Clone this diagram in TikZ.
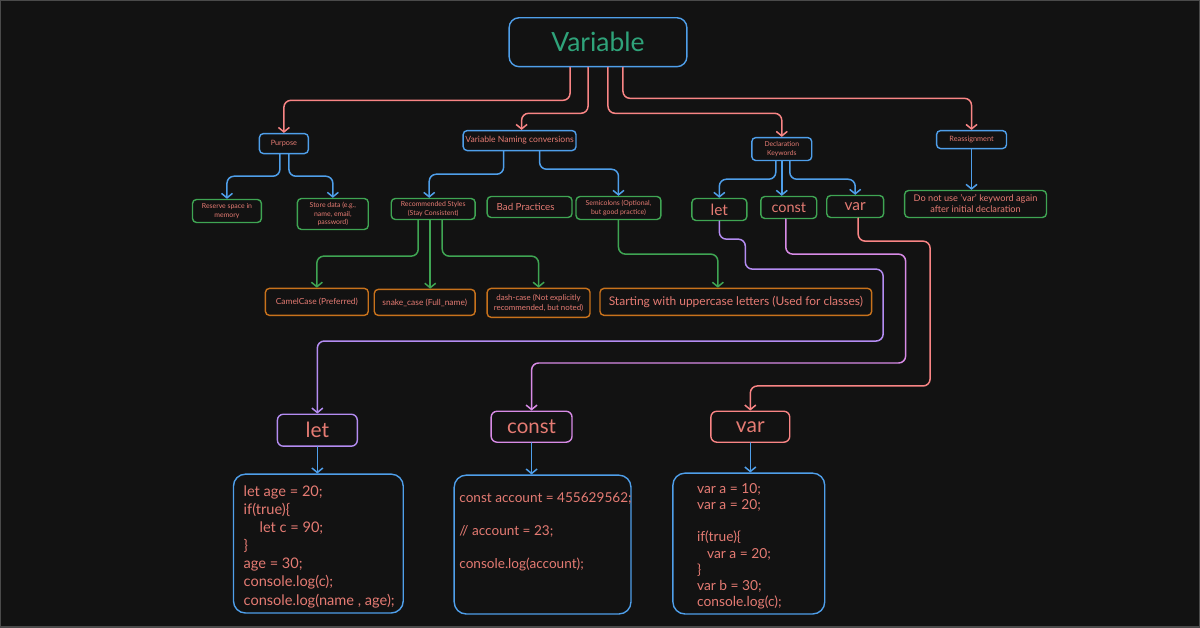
\documentclass[tikz,border=0pt]{standalone}
\usepackage{fontspec}
\setmainfont{Lato}
\usetikzlibrary{arrows.meta}

\definecolor{bgdark}{HTML}{121212}
\definecolor{frame}{HTML}{4A4A4A}
\definecolor{cblue}{HTML}{4F9FEA}
\definecolor{cred}{HTML}{F98585}
\definecolor{cgreen}{HTML}{3FA553}
\definecolor{corange}{HTML}{C8721C}
\definecolor{cpurple}{HTML}{B48CF2}
\definecolor{cpink}{HTML}{D88BE6}
\definecolor{ctext}{HTML}{E57B73}
\definecolor{ctitle}{HTML}{2FA37A}

\newcommand{\fsz}[2]{\fontsize{#1}{#2}\selectfont}

\tikzset{
  box/.style={draw, rounded corners=4pt, line width=1.4pt, inner sep=0pt,
    align=center, text=ctext},
  bluebox/.style={box, draw=cblue},
  greenbox/.style={box, draw=cgreen},
  orangebox/.style={box, draw=corange},
  codebox/.style={box, draw=cblue, rounded corners=12pt},
  code/.style={inner sep=0pt, align=left, text=ctext, anchor=north west},
  con/.style={line width=1.5pt, rounded corners=7pt, line cap=round,
    -{Straight Barb[length=4.5pt,width=11pt,line width=1.5pt]}}
}

\begin{document}
\begin{tikzpicture}[x=1pt,y=-1pt]
    % canvas
    \fill[bgdark, draw=frame, line width=1.5pt] (0,0) rectangle (1200,627);

    % top
    \node[bluebox, minimum width=178pt, minimum height=49pt, rounded corners=10pt,
      text=ctitle, font=\fsz{26.5}{31}] (variable) at (598,41.5) {Variable};

    % first level
    \node[bluebox, minimum width=49pt, minimum height=20pt, font=\fsz{7.3}{8.8}]
      (purpose) at (283.5,143) {Purpose};
    \node[bluebox, minimum width=113pt, minimum height=20pt, font=\fsz{8.6}{10}]
      (naming) at (519.5,140) {Variable Naming conversions};
    \node[bluebox, minimum width=60pt, minimum height=23pt, font=\fsz{6.8}{8.2}]
      (decl) at (782,148.5) {Declaration\\Keywords};
    \node[bluebox, minimum width=70pt, minimum height=18pt, font=\fsz{7.3}{8.8}]
      (reassign) at (972,139) {Reassignment};

    % second level
    \node[greenbox, minimum width=69pt, minimum height=23pt, font=\fsz{6.9}{8.2}]
      (reserve) at (226.5,210.5) {Reserve space in\\memory};
    \node[greenbox, minimum width=71pt, minimum height=31pt, font=\fsz{6.9}{8.2}]
      (store) at (332.5,213.5) {Store data (e.g.,\\name, email,\\password)};
    \node[greenbox, minimum width=84pt, minimum height=21pt, font=\fsz{6.9}{8.2}]
      (recommended) at (433,208.5) {Recommended Styles\\(Stay Consistent)};
    \node[greenbox, minimum width=85pt, minimum height=21pt, font=\fsz{9.8}{11.5}]
      (bad) at (529.5,206.5) {Bad Practices\hspace*{8pt}};
    \node[greenbox, minimum width=85pt, minimum height=23pt, font=\fsz{6.9}{8.2}]
      (semicolons) at (618.5,207.5) {Semicolons (Optional,\\but good practice)};
    \node[greenbox, minimum width=55pt, minimum height=22pt, font=\fsz{15.5}{18}]
      (letkw) at (719.5,209) {let};
    \node[greenbox, minimum width=56pt, minimum height=22pt, font=\fsz{14.5}{17}]
      (constkw) at (789,207) {const};
    \node[greenbox, minimum width=57pt, minimum height=22pt, font=\fsz{15.5}{18}]
      (varkw) at (855.5,206) {var};
    \node[greenbox, minimum width=142pt, minimum height=27pt, font=\fsz{9.2}{11}]
      (noreuse) at (976,203.5) {Do not use 'var' keyword again\\after initial declaration};

    % styles
    \node[orangebox, minimum width=103pt, minimum height=27pt, font=\fsz{8.4}{9.8}]
      (camel) at (316.5,301.5) {CamelCase (Preferred)};
    \node[orangebox, minimum width=101pt, minimum height=26pt, font=\fsz{8.4}{9.8}]
      (snake) at (424.5,302) {snake\_case (Full\_name)};
    \node[orangebox, minimum width=103pt, minimum height=29pt, font=\fsz{7.9}{10}]
      (dash) at (538.5,302.5) {dash-case (Not explicitly\\recommended, but noted)};
    \node[orangebox, minimum width=272pt, minimum height=27pt, font=\fsz{12}{14}]
      (upper) at (736,301.5) {Starting with uppercase letters (Used for classes)};

    % keywords
    \node[box, draw=cpurple, minimum width=80pt, minimum height=32pt, rounded corners=6pt,
      font=\fsz{21}{25}] (letbig) at (317,430) {let};
    \node[box, draw=cpink, minimum width=81pt, minimum height=31pt, rounded corners=6pt,
      font=\fsz{20.5}{24}] (constbig) at (531.5,426.5) {const};
    \node[box, draw=cred, minimum width=79pt, minimum height=31pt, rounded corners=6pt,
      font=\fsz{21}{25}] (varbig) at (750.5,426.5) {var};

    % examples
    \node[codebox, minimum width=170pt, minimum height=139pt] (letcode) at (318,543.5) {};
    \node[codebox, minimum width=177pt, minimum height=139pt] (constcode) at (542.5,544.5) {};
    \node[codebox, minimum width=152pt, minimum height=141pt] (varcode) at (749,543.5) {};

    \node[code, font=\fsz{14.6}{18.2}] (lettext) at (243,485) {let age = 20;\\if(true)\{\\\hspace*{16pt}let c = 90;\\\}\\age = 30;\\console.log(c);\\console.log(name , age);};
    \node[code, font=\fsz{13.6}{16.5}] (consttext) at (459,492) {const account = 455629562;\\[16.5pt]// account = 23;\\[16.5pt]console.log(account);};
    \node[code, font=\fsz{13.8}{16.2}] (vartext) at (697,483) {var a = 10;\\var a = 20;\\[16.2pt]if(true)\{\\\hspace*{10pt}var a = 20;\\\}\\var b = 30;\\console.log(c);};

    % from the top
    \draw[con, cred] ([xshift=-28pt]variable.south) -- ++(0,33) -| (purpose.north);
    \draw[con, cred] ([xshift=-10pt]variable.south) -- ++(0,46) -| ([xshift=2pt]naming.north);
    \draw[con, cred] ([xshift=10pt]variable.south) -- ++(0,46) -| (decl.north);
    \draw[con, cred] ([xshift=25pt]variable.south) -- ++(0,31) -| (reassign.north);

    \draw[con, cblue] ([xshift=-4pt]purpose.south) -- ++(0,22) -| (reserve.north);
    \draw[con, cblue] ([xshift=5pt]purpose.south) -- ++(0,22) -| (store.north);
    \draw[con, cblue] ([xshift=-16pt]naming.south) -- ++(0,23) -| ([xshift=-4pt]recommended.north);
    \draw[con, cblue] ([xshift=20pt]naming.south) -- ++(0,18) -| (semicolons.north);
    \draw[con, cblue] ([xshift=-6pt]decl.south) -- ++(0,18) -| (letkw.north);
    \draw[con, cblue] (decl.south) -- (decl.south |- constkw.north);
    \draw[con, cblue] ([xshift=8pt]decl.south) -- ++(0,18) -| (varkw.north);
    \draw[con, cblue] (reassign.south) -- (reassign.south |- noreuse.north);

    \draw[con, cgreen] ([xshift=-15pt]recommended.south) -- ++(0,36) -| (camel.north);
    \draw[con, cgreen] ([xshift=-3pt]recommended.south) -- ([xshift=-3pt]recommended.south |- snake.north);
    \draw[con, cgreen] ([xshift=9pt]recommended.south) -- ++(0,36) -| (dash.north);
    \draw[con, cgreen] (semicolons.south) -- ++(0,34) -| ([xshift=-18pt]upper.north);

    % keywords down to the examples
    \draw[con, cpurple] (letkw.south) |- ++(26,18) |- ++(138,30) -- ++(0,72) -| (letbig.north);
    \draw[con, cpink] ([xshift=-3pt]constkw.south) |- ++(120,35) -- ++(0,109) -| (constbig.north);
    \draw[con, cred] ([xshift=3pt]varkw.south) |- ++(72,23) -- ++(0,145) -| (varbig.north);

    \draw[con, cblue] (letbig.south) -- (letbig.south |- letcode.north);
    \draw[con, cblue] (constbig.south) -- (constbig.south |- constcode.north);
    \draw[con, cblue] (varbig.south) -- (varbig.south |- varcode.north);
\end{tikzpicture}
\end{document}
